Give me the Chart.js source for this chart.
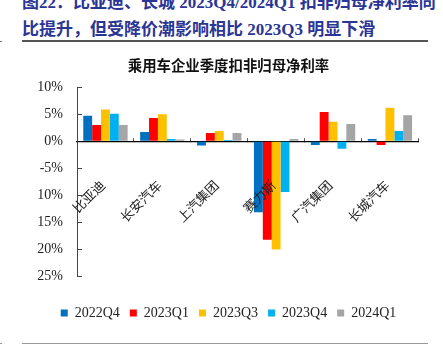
<!DOCTYPE html>
<html>
<head>
<meta charset="utf-8">
<script src="https://cdn.jsdelivr.net/npm/chart.js@4.4.1/dist/chart.umd.min.js"></script>
<style>
  html, body { margin: 0; padding: 0; background: #fff; overflow: hidden; }
  #wrap { position: relative; width: 443px; height: 352px; overflow: hidden; }
  .hdr { position: absolute; left: 22px; white-space: nowrap; font-family: "Liberation Serif", "Noto Sans CJK SC", serif; font-weight: bold; font-size: 17px; line-height: 27px; color: #2b3595; }
  .rule { position: absolute; left: 22px; width: 406px; }
  canvas { position: absolute; left: 0; top: 0; }
</style>
</head>
<body>
<div id="wrap">
  <div class="hdr" style="top:-11px;">图22：比亚迪、长城 2023Q4/2024Q1 扣非归母净利率同</div>
  <div class="hdr" style="top:16px;">比提升，但受降价潮影响相比 2023Q3 明显下滑</div>
  <div class="rule" style="top:40px; height:1.5px; background:#555;"></div>
  <div style="position:absolute; left:0; top:41px; width:2px; height:1px; background:#777;"></div>
  <div class="rule" style="top:343px; height:1px; background:#999;"></div>
  <div style="position:absolute; left:0; top:343px; width:2px; height:1px; background:#999;"></div>
  <canvas id="c" width="443" height="352"></canvas>
</div>
<script>
const categories = ['比亚迪', '长安汽车', '上汽集团', '赛力斯', '广汽集团', '长城汽车'];
const seriesNames = ['2022Q4', '2023Q1', '2023Q3', '2023Q4', '2024Q1'];
const s2022Q4 = [4.7, 1.7, -0.8, -13.2, -0.7, 0.4];
const s2023Q1 = [3.0, 4.3, 1.5, -18.3, 5.4, -0.7];
const s2023Q3 = [5.9, 5.0, 1.9, -20.1, 3.6, 6.2];
const s2023Q4 = [5.1, 0.4, 0.2, -9.4, -1.4, 1.9];
const s2024Q1 = [3.0, 0.3, 1.5, 0.4, 3.2, 4.8];
const yTicks = [10, 5, 0, -5, -10, -15, -20, -25];
const colors = ['#0070C0', '#FF0000', '#FFC000', '#00B0F0', '#A5A5A5'];

const seriesValues = [s2022Q4, s2023Q1, s2023Q3, s2023Q4, s2024Q1];

const serif = '"Liberation Serif", "Times New Roman", serif';
const cjk = '"Noto Sans CJK SC", sans-serif';

new Chart(document.getElementById('c'), {
  type: 'bar',
  data: {
    labels: categories,
    datasets: seriesNames.map((n, i) => ({
      label: n,
      data: seriesValues[i],
      backgroundColor: colors[i],
      borderWidth: 0,
      barPercentage: 1.0,
      categoryPercentage: 0.78
    }))
  },
  options: {
    responsive: false,
    animation: false,
    devicePixelRatio: 1,
    layout: { padding: { left: 37, right: 23, top: 53, bottom: 22 } },
    plugins: {
      tooltip: { enabled: false },
      title: {
        display: true,
        text: '乘用车企业季度扣非归母净利率',
        color: '#111',
        font: { family: cjk, size: 14.4, weight: 'bold' },
        padding: { top: 4, bottom: 13 }
      },
      legend: {
        position: 'bottom',
        labels: {
          boxWidth: 7,
          boxHeight: 7,
          padding: 10,
          color: '#222',
          font: { family: serif, size: 14 }
        }
      }
    },
    scales: {
      x: {
        type: 'category',
        position: { y: 0 },
        border: { display: true, color: '#000', width: 1.2 },
        grid: { display: true, drawOnChartArea: false, drawTicks: true, tickLength: -4, offset: true, color: '#555' },
        ticks: {
          z: 1,
          autoSkip: false,
          maxRotation: 45,
          minRotation: 45,
          padding: 40,
          labelOffset: -3,
          color: '#222',
          font: { family: cjk, size: 13, weight: 'normal' }
        },
        afterFit: (s) => { s.height = 0; }
      },
      xs: {
        type: 'category',
        position: 'bottom',
        labels: categories,
        display: true,
        border: { display: false },
        grid: { display: false, drawTicks: false },
        ticks: { display: false },
        afterFit: (s) => { s.height = 20; }
      },
      y: {
        min: -25,
        max: 10,
        afterBuildTicks: (s) => { s.ticks = yTicks.map(v => ({ value: v })); },
        border: { display: true, color: '#444', width: 1 },
        grid: { display: true, drawOnChartArea: false, drawTicks: true, tickLength: -5, color: '#444' },
        ticks: {
          padding: 19,
          color: '#222',
          font: { family: serif, size: 14 },
          callback: (v) => v + '%'
        },
        afterFit: (s) => { s.width = 40; }
      }
    }
  }
});
</script>
</body>
</html>
